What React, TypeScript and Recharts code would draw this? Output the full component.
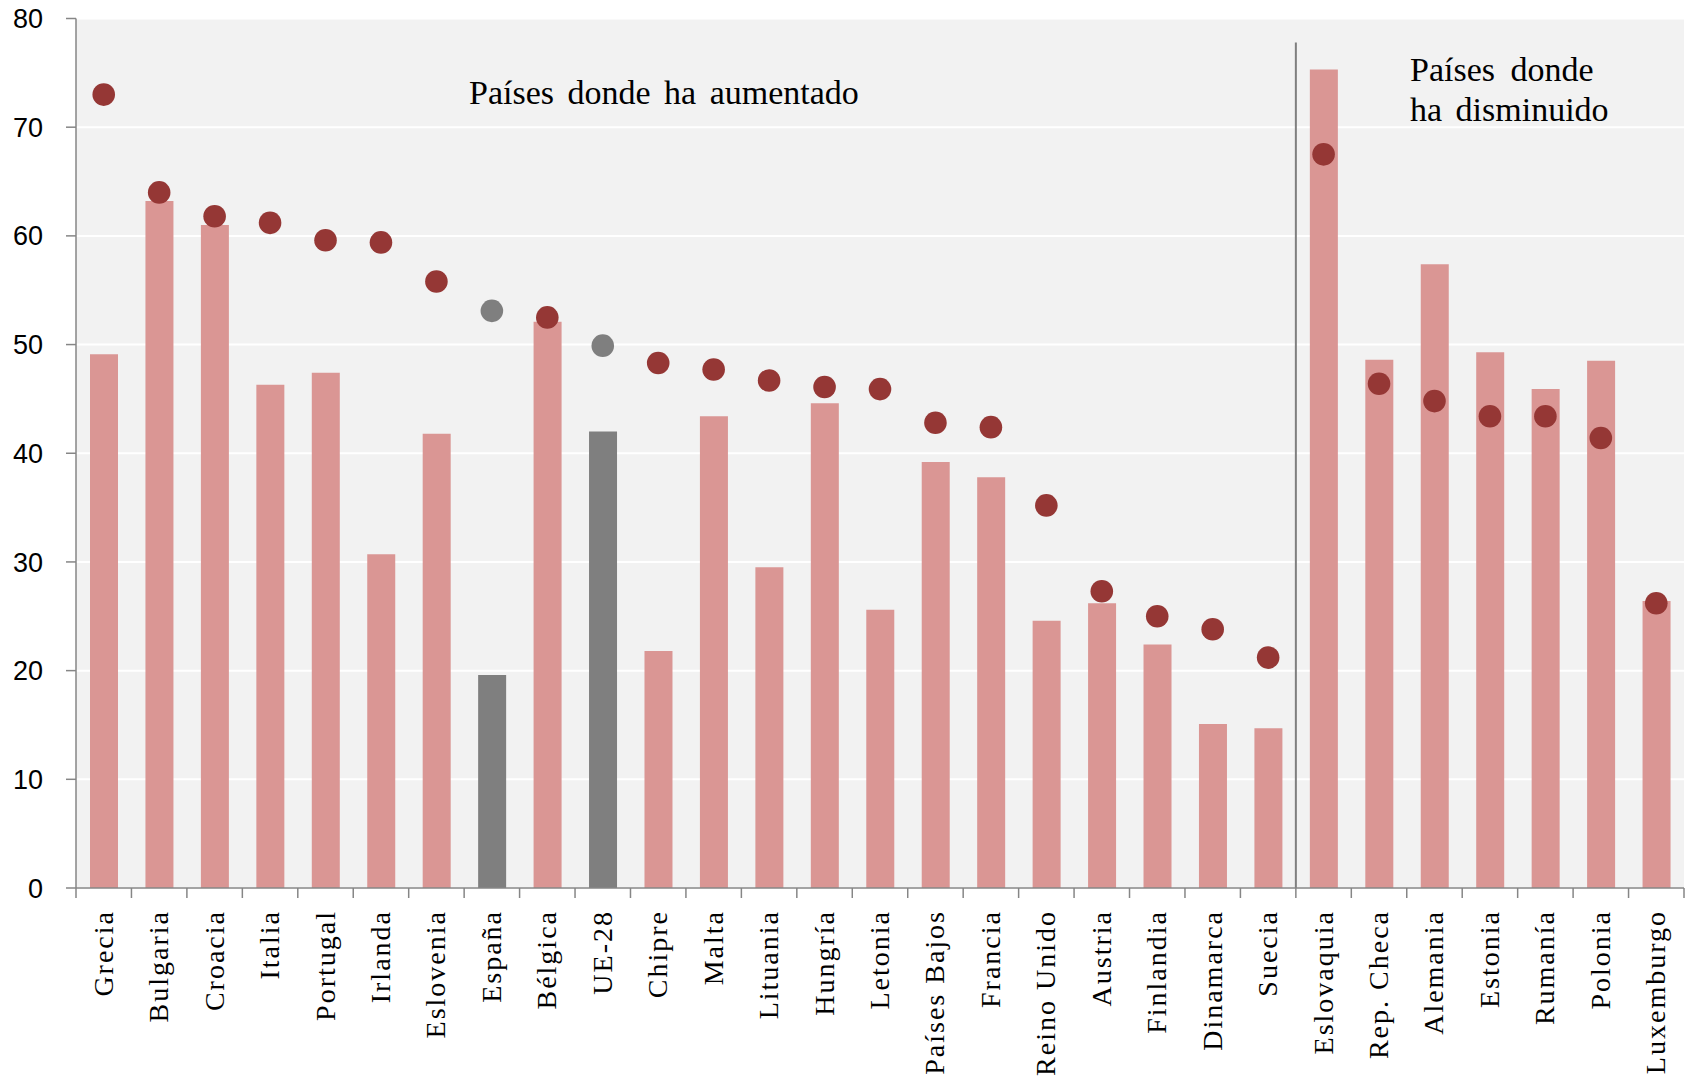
import {
  ComposedChart,
  Bar,
  Line,
  Cell,
  XAxis,
  YAxis,
  CartesianGrid,
  ReferenceLine,
} from "recharts";

const countries = [
  "Grecia", "Bulgaria", "Croacia", "Italia", "Portugal", "Irlanda", "Eslovenia",
  "España", "Bélgica", "UE-28", "Chipre", "Malta", "Lituania", "Hungría",
  "Letonia", "Países Bajos", "Francia", "Reino Unido", "Austria", "Finlandia",
  "Dinamarca", "Suecia", "Eslovaquia", "Rep. Checa", "Alemania", "Estonia",
  "Rumanía", "Polonia", "Luxemburgo",
];

const barValues = [
  49.1, 63.2, 61.0, 46.3, 47.4, 30.7, 41.8, 19.6, 52.1, 42.0, 21.8, 43.4, 29.5,
  44.6, 25.6, 39.2, 37.8, 24.6, 26.2, 22.4, 15.1, 14.7, 75.3, 48.6, 57.4, 49.3,
  45.9, 48.5, 26.4,
];

const dotValues = [
  73.0, 64.0, 61.8, 61.2, 59.6, 59.4, 55.8, 53.1, 52.5, 49.9, 48.3, 47.7, 46.7,
  46.1, 45.9, 42.8, 42.4, 35.2, 27.3, 25.0, 23.8, 21.2, 67.5, 46.4, 44.8, 43.4,
  43.4, 41.4, 26.2,
];

const highlighted = ["España", "UE-28"];
const yTicks = [0, 10, 20, 30, 40, 50, 60, 70, 80];

const data = countries.map((name, i) => ({
  name,
  bar: barValues[i],
  dot: dotValues[i],
  grey: highlighted.includes(name),
}));

const W = 1692;
const H = 1077;
const LEFT = 76;
const RIGHT = 8;
const BAND = (W - LEFT - RIGHT) / countries.length;
const AXIS_COLOR = "#868686";

function CountryTick(props: any) {
  const { x, y, payload, index } = props;
  const left = x - BAND / 2;
  return (
    <g>
      <line x1={left} x2={left} y1={y} y2={y + 10} stroke={AXIS_COLOR} strokeWidth={1.5} />
      {index === countries.length - 1 && (
        <line x1={x + BAND / 2} x2={x + BAND / 2} y1={y} y2={y + 10} stroke={AXIS_COLOR} strokeWidth={1.5} />
      )}
      <text
        transform={`translate(${x + 9},${y + 22}) rotate(-90)`}
        textAnchor="end"
        fontFamily="'Liberation Serif', 'Times New Roman', serif"
        fontSize={28}
        letterSpacing={2}
        fill="#000"
      >
        {payload.value}
      </text>
    </g>
  );
}

function renderDot(props: any) {
  const { cx, cy, payload, index } = props;
  return (
    <circle
      key={`dot-${index}`}
      cx={cx}
      cy={cy}
      r={11.3}
      fill={payload.grey ? "#7f7f7f" : "#953735"}
    />
  );
}

export default function App() {
  return (
    <div style={{ position: "absolute", left: 0, top: 0, width: W, height: H, background: "#fff" }}>
      <ComposedChart
        width={W}
        height={H}
        data={data}
        margin={{ top: 18.5, right: RIGHT, bottom: 0, left: 0 }}
      >
        <CartesianGrid vertical={false} stroke="#ffffff" strokeWidth={2} fill="#f2f2f2" />
        <XAxis
          dataKey="name"
          interval={0}
          height={189}
          tickLine={false}
          tickSize={0}
          tickMargin={0}
          axisLine={{ stroke: AXIS_COLOR, strokeWidth: 1.5 }}
          tick={<CountryTick />}
        />
        <YAxis
          width={LEFT}
          domain={[0, 80]}
          ticks={yTicks}
          tickSize={10}
          tickMargin={23}
          axisLine={{ stroke: AXIS_COLOR, strokeWidth: 1.5 }}
          tickLine={{ stroke: AXIS_COLOR, strokeWidth: 1.5 }}
          tick={{ fontSize: 27, fill: "#000", fontFamily: "'Liberation Sans', Arial, sans-serif" }}
        />
        <Bar dataKey="bar" barSize={28} isAnimationActive={false}>
          {data.map((d) => (
            <Cell key={d.name} fill={d.grey ? "#7f7f7f" : "#da9694"} />
          ))}
        </Bar>
        <Line
          dataKey="dot"
          stroke="none"
          isAnimationActive={false}
          dot={renderDot}
          activeDot={false}
        />
        <ReferenceLine
          position="start"
          segment={[
            { x: "Eslovaquia", y: 77.8 },
            { x: "Eslovaquia", y: 0 },
          ]}
          stroke="#7f7f7f"
          strokeWidth={2}
          ifOverflow="visible"
        />
      </ComposedChart>
      <svg
        width={W}
        height={H}
        style={{ position: "absolute", left: 0, top: 0, pointerEvents: "none" }}
      >
        <g fontFamily="'Liberation Serif', 'Times New Roman', serif" fontSize={34} fill="#000">
          <text x={469} y={104} wordSpacing={5}>Países donde ha aumentado</text>
          <text x={1410} y={81} wordSpacing={7}>Países donde</text>
          <text x={1410} y={121} wordSpacing={5}>ha disminuido</text>
        </g>
      </svg>
    </div>
  );
}
